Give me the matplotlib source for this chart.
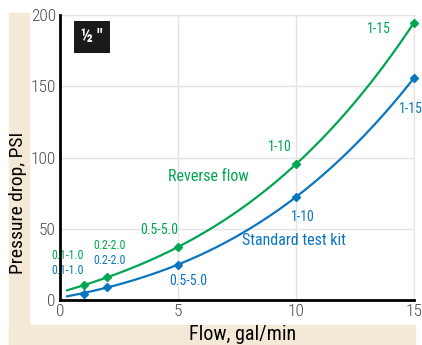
import numpy as np
import matplotlib
matplotlib.use("Agg")
import matplotlib.pyplot as plt
from matplotlib.patches import Rectangle

plt.rcParams['font.family'] = ['Roboto Condensed', 'DejaVu Sans']

# data
flow = [1, 2, 5, 10, 15]
reverse_psi = [10.7, 16, 37, 95.4, 194.6]
standard_psi = [4.4, 9.1, 24.8, 72.3, 155.8]
curve_start = 0.3
reverse_start = 6.5
standard_start = 2.8
reverse_labels = ["0.1-1.0", "0.2-2.0", "0.5-5.0", "1-10", "1-15"]
standard_labels = ["0.1-1.0", "0.2-2.0", "0.5-5.0", "1-10", "1-15"]
xticks = [0, 5, 10, 15]
yticks = [0, 50, 100, 150, 200]

GREEN = "#00a651"
BLUE = "#0a76c0"
BEIGE = "#f3e9d6"
W, H = 422, 345

fig = plt.figure(figsize=(W / 100, H / 100), dpi=100)
fig.patches.append(Rectangle((9 / W, 0), 20 / W, (H - 13) / H, transform=fig.transFigure,
                             color=BEIGE, zorder=0))
fig.patches.append(Rectangle((9 / W, 0), (415 - 9) / W, 20 / H, transform=fig.transFigure,
                             color=BEIGE, zorder=0))

ax = fig.add_axes([60 / W, (H - 300) / H, (414 - 60) / W, (300 - 15) / H])
ax.set_xlim(0, 15)
ax.set_ylim(0, 200)
ax.set_xticks(xticks)
ax.set_yticks(yticks)
ax.tick_params(length=0, labelsize=12.5, labelcolor="#4a4a4a", pad=3)
for lab in ax.get_xticklabels() + ax.get_yticklabels():
    lab.set_fontweight("light")
ax.grid(True, color="#e3e3e3", lw=1)
for s in ["top", "right"]:
    ax.spines[s].set_color("#e3e3e3")
for s in ["left", "bottom"]:
    ax.spines[s].set_color("black")
    ax.spines[s].set_linewidth(2)
    ax.spines[s].set_zorder(5)

# smooth trend curves through the points
xs = np.linspace(curve_start, 15, 200)
for ys, y0, c in [(reverse_psi, reverse_start, GREEN), (standard_psi, standard_start, BLUE)]:
    p = np.polyfit([curve_start] + flow, [y0] + ys, 3)
    ax.plot(xs, np.polyval(p, xs), color=c, lw=1.6, zorder=3, clip_on=False)
    ax.plot(flow, ys, "D", color=c, ms=4.5, zorder=4, clip_on=False)

# point labels
g_pos = [(0.3, 31), (2.1, 38.5), (4.2, 49), (9.3, 107.5), (13.5, 190)]
b_pos = [(0.3, 20.5), (2.1, 28), (5.45, 13), (10.3, 58), (14.88, 134)]
for (x, y), t in zip(g_pos, reverse_labels):
    ax.text(x, y, t, color=GREEN, fontsize=8.5 if x < 3 else 10, ha="center", va="center")
for (x, y), t in zip(b_pos, standard_labels):
    ax.text(x, y, t, color=BLUE, fontsize=8.5 if x < 3 else 10, ha="center", va="center",
            clip_on=False)
ax.text(6.3, 87, "Reverse flow", color=GREEN, fontsize=11.5, ha="center", va="center")
ax.text(9.9, 41.5, "Standard test kit", color=BLUE, fontsize=11.5, ha="center", va="center")

# size tag
ax.text(1.36, 184.5, "\u00bd \"", color="white", fontsize=13, fontweight="bold", ha="center",
        va="center", bbox=dict(boxstyle="square,pad=0.4", fc="#1a1a1a", ec="none"))

fig.text(18 / W, 1 - 203 / H, "Pressure drop, PSI", rotation=90, fontsize=14,
         ha="center", va="center")
fig.text(243 / W, 1 - 335 / H, "Flow, gal/min", fontsize=14.5, ha="center", va="center")

fig.savefig("out.png", dpi=100)
